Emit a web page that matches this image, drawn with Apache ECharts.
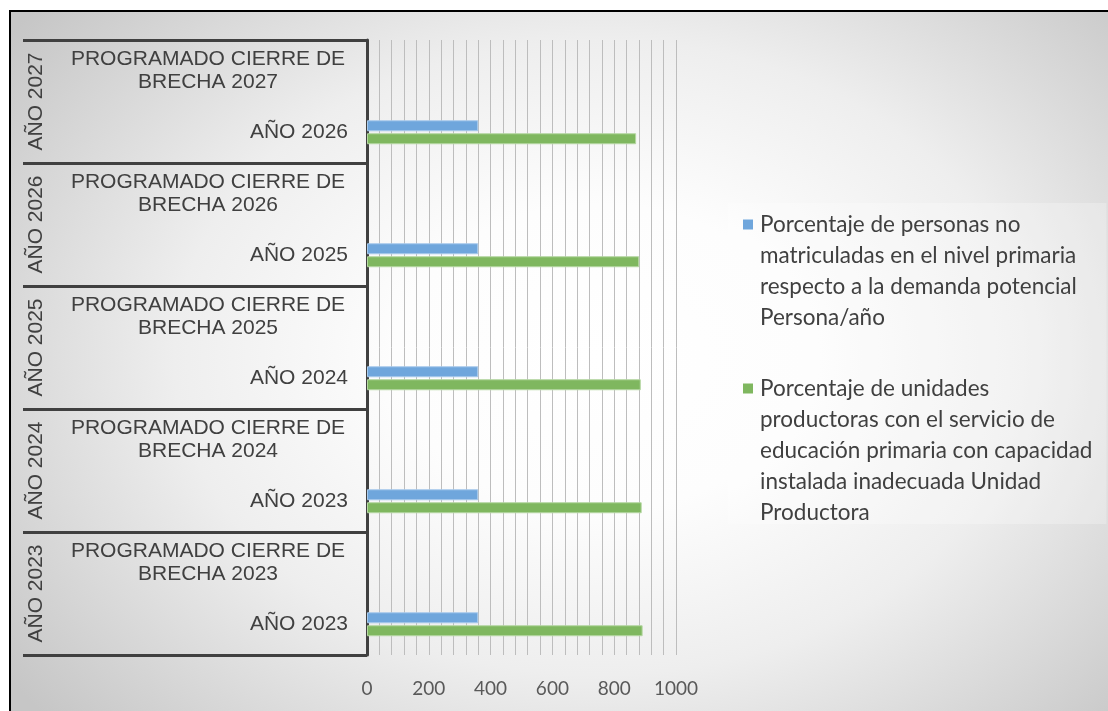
<!DOCTYPE html>
<html>
<head>
<meta charset="utf-8">
<script src="https://cdn.jsdelivr.net/npm/echarts@6/dist/echarts.min.js"></script>
<style>
html, body { margin: 0; padding: 0; width: 1108px; height: 711px; overflow: hidden; background: #ffffff; }
#frame { position: absolute; left: 9px; top: 10px; width: 1110px; height: 720px; border: 2px solid #000;
  background: radial-gradient(ellipse 66% 76% at 53% 48%, #ffffff 0%, #fdfdfd 28%, #eeeeee 58%, #c6c6c6 100%); }
#chart { position: absolute; left: 0; top: 0; width: 1108px; height: 711px; }
</style>
</head>
<body>
<div id="frame"></div>
<div id="chart"></div>
<script>
// ---- data ----
const categories = [
  'AÑO 2023', 'PROGRAMADO CIERRE DE BRECHA 2023',
  'AÑO 2023', 'PROGRAMADO CIERRE DE BRECHA 2024',
  'AÑO 2024', 'PROGRAMADO CIERRE DE BRECHA 2025',
  'AÑO 2025', 'PROGRAMADO CIERRE DE BRECHA 2026',
  'AÑO 2026', 'PROGRAMADO CIERRE DE BRECHA 2027'
];
const groups = ['AÑO 2023', 'AÑO 2024', 'AÑO 2025', 'AÑO 2026', 'AÑO 2027'];
const seriesNames = [
  'Porcentaje de personas no matriculadas en el nivel primaria respecto a la demanda potencial Persona/año',
  'Porcentaje de unidades productoras con el servicio de educación primaria con capacidad instalada inadecuada Unidad Productora'
];
const legendLines = [
  ['Porcentaje de personas no', 'matriculadas en el nivel primaria', 'respecto a la demanda potencial', 'Persona/año'],
  ['Porcentaje de unidades', 'productoras con el servicio de', 'educación primaria con capacidad', 'instalada inadecuada Unidad', 'Productora']
];
const blueValues  = [360, null, 360, null, 360, null, 360, null, 360, null];
const greenValues = [892, null, 889, null, 886, null, 881, null, 871, null];
const xMin = 0, xMax = 1000, xStep = 200;

const colors = ['#6FA6DC', '#7FB75F'];
const borders = ['#A8CAEC', '#B5D7A2'];
const labelFont = 'Liberation Sans, Arial, sans-serif';
const calFont = 'Lato, Carlito, sans-serif';

const chart = echarts.init(document.getElementById('chart'), null, { renderer: 'canvas' });

function catLabel(v, i) {
  const t = categories[i];
  if (t.indexOf('PROGRAMADO') === 0) {
    const cut = t.indexOf(' BRECHA');
    return '{p|' + t.slice(0, cut) + '}\n{p|' + t.slice(cut + 1) + '}';
  }
  return '{a|' + t + '}';
}

function legendFmt(name) {
  const s = seriesNames.indexOf(name);
  return legendLines[s].map((l, k) => (k === 0 ? '{sq' + s + '| }{sp| }{t|' : '{ind| }{t|') + l + '}').join('\n');
}

chart.setOption({
  backgroundColor: 'transparent',
  animation: false,
  grid: { left: 367, right: 432, top: 40, bottom: 56, containLabel: false },
  legend: {
    show: true,
    orient: 'vertical',
    left: 728, top: 203,
    padding: [10, 14, 0, 10],
    itemGap: 48,
    itemWidth: 0, itemHeight: 10,
    icon: 'none',
    backgroundColor: 'rgba(255,255,255,0.25)',
    selectedMode: false,
    formatter: legendFmt,
    textStyle: {
      color: '#404040',
      rich: {
        sq0: { width: 10, height: 10, backgroundColor: colors[0], lineHeight: 31 },
        sq1: { width: 10, height: 10, backgroundColor: colors[1], lineHeight: 31 },
        sp: { width: 7, lineHeight: 31 },
        ind: { width: 17, lineHeight: 31 },
        t: { fontFamily: calFont, fontSize: 22.5, color: '#404040', lineHeight: 31 }
      }
    },
    data: seriesNames
  },
  xAxis: {
    type: 'value',
    min: xMin, max: xMax, interval: xStep,
    axisLine: { show: false },
    axisTick: { show: false },
    axisLabel: { fontFamily: calFont, fontSize: 19, color: '#595959', margin: 24, formatter: v => String(v) },
    splitLine: { show: true, lineStyle: { color: '#bdbdbd', width: 1 } },
    minorTick: { show: false, splitNumber: 5 },
    minorSplitLine: { show: true, lineStyle: { color: '#bdbdbd', width: 1 } }
  },
  yAxis: [
    {
      type: 'category',
      position: 'left',
      data: categories,
      axisLine: { show: true, lineStyle: { color: '#404040', width: 3 } },
      axisTick: { show: false },
      axisLabel: {
        interval: 0,
        margin: 19,
        formatter: catLabel,
        rich: {
          a: { width: 280, align: 'right', fontFamily: labelFont, fontSize: 21, color: '#404040', lineHeight: 23 },
          p: { width: 280, align: 'center', fontFamily: labelFont, fontSize: 21, color: '#404040', lineHeight: 23 }
        }
      },
      splitLine: { show: false }
    },
    {
      type: 'category',
      position: 'left',
      offset: 0,
      data: groups,
      axisLine: { show: false },
      axisTick: { show: true, length: 344, interval: 0, lineStyle: { color: '#404040', width: 3 } },
      axisLabel: { interval: 0, rotate: 90, margin: 320, fontFamily: labelFont, fontSize: 21, color: '#404040' },
      splitLine: { show: false }
    }
  ],
  series: [
    {
      name: seriesNames[0], type: 'bar', yAxisIndex: 0, data: blueValues,
      barWidth: 11, barGap: '18%',
      itemStyle: { color: colors[0], borderColor: borders[0], borderWidth: 1 }
    },
    {
      name: seriesNames[1], type: 'bar', yAxisIndex: 0, data: greenValues,
      barWidth: 11, barGap: '18%',
      itemStyle: { color: colors[1], borderColor: borders[1], borderWidth: 1 }
    }
  ]
});
</script>
</body>
</html>
